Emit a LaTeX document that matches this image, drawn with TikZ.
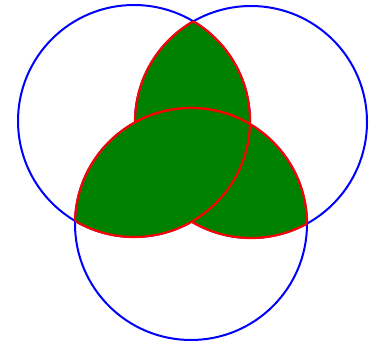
\documentclass[tikz,border=0pt]{standalone}
\definecolor{lensgreen}{RGB}{0,128,0}
\tikzset{
  ring/.style={draw=blue,line width=2pt},
  lensedge/.style={draw=red,line width=2.2pt},
  lensfill/.style={fill=lensgreen}
}
\newcommand\lensdraw[2]{%
  \begin{scope}
    \clip (#1) circle[radius=116pt];
    \fill[lensfill] (#2) circle[radius=116pt];
    \draw[lensedge] (#2) circle[radius=116pt];
  \end{scope}
  \begin{scope}
    \clip (#2) circle[radius=116pt];
    \draw[lensedge] (#1) circle[radius=116pt];
  \end{scope}}
\begin{document}
\begin{tikzpicture}[x=1pt,y=1pt]
\useasboundingbox (0,0) rectangle (377,345);
\coordinate (L) at (134,224);
\coordinate (R) at (251,223);
\coordinate (B) at (191,121);
\foreach \c in {L,R,B} \draw[ring] (\c) circle[radius=116pt];
\lensdraw{L}{R}
\lensdraw{R}{B}
\lensdraw{L}{B}
\end{tikzpicture}
\end{document}
